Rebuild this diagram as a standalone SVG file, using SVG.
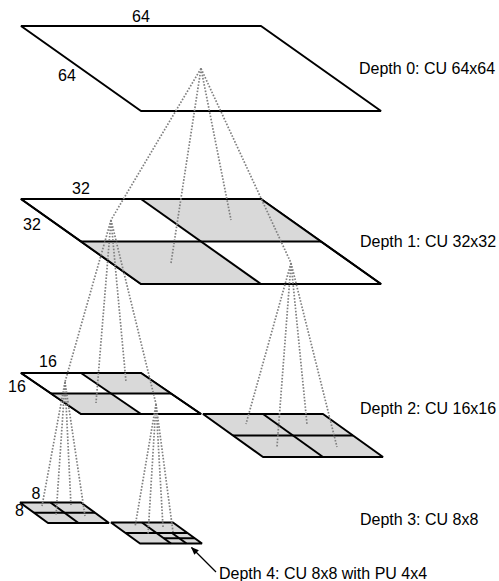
<svg xmlns="http://www.w3.org/2000/svg" width="499" height="581" viewBox="0 0 499 581">
<defs>
<style>
.pl{fill:#ffffff;stroke:#000;stroke-width:2;stroke-linejoin:bevel}
.sh{fill:#d9d9d9;stroke:none}
.ln{stroke:#000;stroke-width:2;fill:none;stroke-linecap:butt}
.pu{stroke:#000;stroke-width:2;fill:none}
.dot{stroke:#808080;stroke-width:1.7;stroke-dasharray:1.6 1.6;fill:none}
.t{font-family:"Liberation Sans",Arial,sans-serif;font-size:16px;fill:#000}
.m{text-anchor:middle}
</style>
<marker id="ah" viewBox="0 0 10 10" refX="9" refY="5" markerWidth="8" markerHeight="8" orient="auto" markerUnits="userSpaceOnUse">
<path d="M0,1 L10,5 L0,9 z" fill="#000"/>
</marker>
</defs>
<rect width="499" height="581" fill="#fff"/>

<g id="depth0">
<polygon class="pl" points="21,26 261,26 381,111 141,111"/>
<text class="t m" x="141" y="22">64</text>
<text class="t m" x="67" y="81">64</text>
<text class="t" x="359" y="73.5">Depth 0: CU 64x64</text>
</g>

<g id="depth1">
<polygon class="pl" points="21,199 261,199 381,284 141,284"/>
<polygon class="sh" points="141,199 261,199 321,241.5 201,241.5"/>
<polygon class="sh" points="81,241.5 201,241.5 261,284 141,284"/>
<polygon class="pl" style="fill:none" points="21,199 261,199 381,284 141,284"/>
<line class="ln" x1="81" y1="241.5" x2="321" y2="241.5"/>
<line class="ln" x1="141" y1="199" x2="261" y2="284"/>
<text class="t m" x="81" y="194">32</text>
<text class="t m" x="32" y="230">32</text>
<text class="t" x="360" y="247">Depth 1: CU 32x32</text>
</g>

<g id="depth2-left">
<polygon class="pl" points="21,373 141,373 201,414 81,414"/>
<polygon class="sh" points="81,373 141,373 171,393.5 111,393.5"/>
<polygon class="sh" points="51,393.5 111,393.5 141,414 81,414"/>
<polygon class="pl" style="fill:none" points="21,373 141,373 201,414 81,414"/>
<line class="ln" x1="51" y1="393.5" x2="171" y2="393.5"/>
<line class="ln" x1="81" y1="373" x2="141" y2="414"/>
<text class="t m" x="48" y="367">16</text>
<text class="t m" x="17" y="392">16</text>
</g>

<g id="depth2-right">
<polygon class="pl" style="fill:#d9d9d9" points="203,414 323,414 383,457 263,457"/>
<line class="ln" x1="233" y1="435.5" x2="353" y2="435.5"/>
<line class="ln" x1="263" y1="414" x2="323" y2="457"/>
<text class="t" x="360" y="414">Depth 2: CU 16x16</text>
</g>

<g id="depth3-left">
<polygon class="pl" style="fill:#d9d9d9" points="20,502.5 81,502.5 109,523 48,523"/>
<line class="ln" x1="34" y1="512.75" x2="95" y2="512.75"/>
<line class="ln" x1="50.5" y1="502.5" x2="78.5" y2="523"/>
<text class="t m" x="36" y="499">8</text>
<text class="t m" x="19.5" y="516">8</text>
<text class="t" x="360" y="525">Depth 3: CU 8x8</text>
</g>

<g id="depth4">
<polygon class="pl" style="fill:#d9d9d9" points="111,522.5 173,522.5 202,543.5 140,543.5"/>
<line class="ln" x1="125.5" y1="533" x2="187.5" y2="533"/>
<line class="ln" x1="142" y1="522.5" x2="171" y2="543.5"/>
<line class="pu" x1="163.75" y1="538.25" x2="194.75" y2="538.25"/>
<line class="pu" x1="172" y1="533" x2="186.5" y2="543.5"/>
<text class="t" x="219" y="579">Depth 4: CU 8x8 with PU 4x4</text>
</g>

<g id="connectors">
<line class="dot" x1="201" y1="68.5" x2="111" y2="220"/>
<line class="dot" x1="201" y1="68.5" x2="231" y2="220"/>
<line class="dot" x1="201" y1="68.5" x2="171" y2="263"/>
<line class="dot" x1="201" y1="68.5" x2="291" y2="263"/>

<line class="dot" x1="111" y1="220" x2="65" y2="382"/>
<line class="dot" x1="111" y1="220" x2="126" y2="382"/>
<line class="dot" x1="111" y1="220" x2="96" y2="403"/>
<line class="dot" x1="111" y1="220" x2="156" y2="404"/>

<line class="dot" x1="291" y1="263" x2="246" y2="424"/>
<line class="dot" x1="291" y1="263" x2="307" y2="424"/>
<line class="dot" x1="291" y1="263" x2="277" y2="447"/>
<line class="dot" x1="291" y1="263" x2="337" y2="447"/>

<line class="dot" x1="65" y1="382" x2="42" y2="506"/>
<line class="dot" x1="65" y1="382" x2="71" y2="506"/>
<line class="dot" x1="65" y1="382" x2="56" y2="516"/>
<line class="dot" x1="65" y1="382" x2="85" y2="516"/>

<line class="dot" x1="156" y1="404" x2="135" y2="527"/>
<line class="dot" x1="156" y1="404" x2="148" y2="535"/>
<line class="dot" x1="156" y1="404" x2="163" y2="527"/>
<line class="dot" x1="156" y1="404" x2="173" y2="532"/>

<line x1="216" y1="572" x2="191.5" y2="547.5" stroke="#000" stroke-width="1.2" marker-end="url(#ah)"/>
</g>
</svg>
